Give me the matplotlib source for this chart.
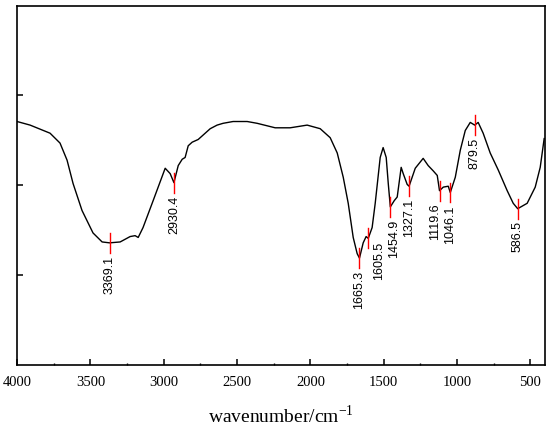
import matplotlib
matplotlib.use("Agg")
import matplotlib.pyplot as plt
from matplotlib.ticker import MultipleLocator

# spectrum (wavenumber, relative transmittance)
wavenumber = [4000, 3911, 3775, 3707, 3659, 3618, 3557, 3482, 3420, 3369.1,
              3297, 3229, 3195, 3174, 3141, 3072, 2990, 2956, 2930.4, 2901,
              2874, 2854, 2833, 2806, 2765, 2683, 2636, 2595, 2527, 2479,
              2431, 2363, 2240, 2138, 2022, 1933, 1865, 1817, 1776, 1742,
              1708, 1681, 1665.3, 1640, 1620, 1605.5, 1579, 1558, 1524, 1504,
              1483, 1469, 1454.9, 1428, 1408, 1381, 1367, 1340, 1327.1, 1285,
              1231, 1197, 1162, 1135, 1119.6, 1094, 1060, 1046.1, 1012, 978,
              944, 910, 879.5, 856, 822, 774, 719, 658, 617, 586.5,
              522, 467, 433, 406]
signal = [2.71, 2.67, 2.58, 2.47, 2.28, 2.02, 1.72, 1.47, 1.37, 1.36,
          1.37, 1.43, 1.44, 1.42, 1.53, 1.83, 2.19, 2.13, 2.03, 2.22,
          2.29, 2.31, 2.44, 2.48, 2.51, 2.63, 2.67, 2.69, 2.71, 2.71,
          2.71, 2.69, 2.64, 2.64, 2.67, 2.63, 2.53, 2.36, 2.09, 1.80,
          1.42, 1.24, 1.19, 1.36, 1.43, 1.41, 1.53, 1.80, 2.31, 2.42,
          2.31, 2.02, 1.76, 1.83, 1.87, 2.20, 2.13, 2.01, 1.99, 2.19,
          2.30, 2.22, 2.16, 2.11, 1.94, 1.98, 1.99, 1.92, 2.09, 2.39,
          2.61, 2.70, 2.67, 2.70, 2.58, 2.36, 2.17, 1.94, 1.80, 1.74,
          1.80, 1.98, 2.20, 2.52]

peak_pos = [3369.1, 2930.4, 1665.3, 1605.5, 1454.9, 1327.1, 1119.6, 1046.1, 879.5, 586.5]
peak_val = [1.36, 2.03, 1.19, 1.41, 1.76, 1.99, 1.94, 1.92, 2.67, 1.74]
peak_labels = ["3369.1", "2930.4", "1665.3", "1605.5", "1454.9",
               "1327.1", "1119.6", "1046.1", "879.5", "586.5"]

# small nudges (points) so crowded labels don't collide
nudge = {"1605.5": (7.5, 6.5), "1454.9": (3, 0), "1119.6": (-3, 0)}

plt.rcParams["font.family"] = ["Liberation Serif", "DejaVu Serif"]

fig = plt.figure(figsize=(5.5, 4.28), dpi=100)
ax = fig.add_axes([0.031, 0.147, 0.96, 0.84])

ax.plot(wavenumber, signal, color="black", lw=1.0)

half = 0.11
for x, y, lab in zip(peak_pos, peak_val, peak_labels):
    ax.plot([x, x], [y - half, y + half], color="red", lw=1.0)
    dx, dy = nudge.get(lab, (0, 0))
    ax.annotate(lab, (x, y - half), xytext=(dx, -2 + dy), textcoords="offset points",
                rotation=90, ha="center", va="top", fontsize=9,
                family=["Liberation Sans", "DejaVu Sans"])

ax.set_xlim(4000, 400)
ax.set_ylim(0, 4)
ax.xaxis.set_major_locator(MultipleLocator(500))
ax.xaxis.set_minor_locator(MultipleLocator(250))
ax.set_yticks([1, 2, 3])
ax.set_yticklabels([])
ax.tick_params(axis="x", which="major", direction="in", length=4.5, width=1.1,
               labelsize=10.5, pad=8)
ax.tick_params(axis="x", which="minor", direction="in", length=1.8, width=1.0)
ax.tick_params(axis="y", direction="in", length=4.5, width=1.1)
for s in ax.spines.values():
    s.set_linewidth(1.2)

ax.set_xlabel("wavenumber/cm$^{\\mathregular{-1}}$", fontsize=14, labelpad=11)

fig.savefig("out.png", dpi=100)
